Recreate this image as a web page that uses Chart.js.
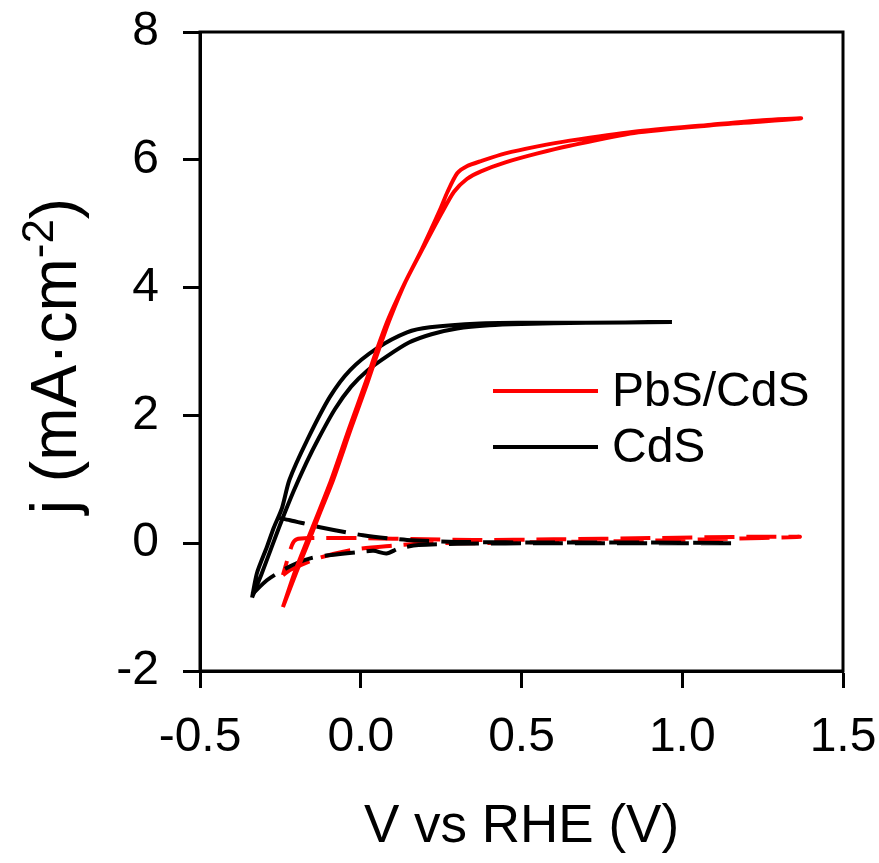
<!DOCTYPE html>
<html>
<head>
<meta charset="utf-8">
<script src="https://cdn.jsdelivr.net/npm/chart.js@4.4.1/dist/chart.umd.min.js"></script>
<style>
  html, body { margin: 0; padding: 0; background: #fff; }
  #wrap { width: 879px; height: 863px; }
</style>
</head>
<body>
<div id="wrap"><canvas id="jvChart" width="879" height="863"></canvas></div>
<script>
// Series labels
const seriesLabels = ['PbS/CdS', 'CdS'];

// PbS/CdS under light (solid red): forward sweep then return sweep
const pbsLightV = [-0.242, -0.200, -0.164, -0.125, -0.086, -0.030, 0.020, 0.054, 0.090, 0.140, 0.197, 0.250, 0.290, 0.330, 0.374, 0.450, 0.550, 0.650, 0.850, 1.090, 1.250, 1.370,
                   1.250, 1.090, 0.850, 0.650, 0.550, 0.450, 0.374, 0.330, 0.300, 0.270, 0.245, 0.190, 0.135, 0.085, 0.048, 0.014, -0.036, -0.092, -0.130, -0.170, -0.205, -0.242];
const pbsLightJ = [-1.00, -0.45, 0.00, 0.50, 0.99, 1.80, 2.50, 3.00, 3.50, 4.10, 4.65, 5.15, 5.50, 5.70, 5.82, 5.96, 6.10, 6.22, 6.42, 6.54, 6.60, 6.65,
                   6.62, 6.55, 6.44, 6.30, 6.21, 6.10, 5.98, 5.90, 5.79, 5.50, 5.20, 4.60, 4.05, 3.50, 3.00, 2.50, 1.80, 0.99, 0.50, 0.00, -0.45, -1.00];

// CdS under light (solid black)
const cdsLightV = [-0.338, -0.310, -0.280, -0.250, -0.210, -0.170, -0.130, -0.080, -0.030, 0.020, 0.080, 0.150, 0.220, 0.300, 0.400, 0.500, 0.700, 0.968,
                   0.700, 0.500, 0.370, 0.215, 0.144, 0.050, -0.033, -0.096, -0.167, -0.222, -0.245, -0.270, -0.292, -0.323, -0.338];
const cdsLightJ = [-0.85, -0.50, -0.10, 0.30, 0.80, 1.25, 1.65, 2.10, 2.45, 2.70, 2.92, 3.14, 3.27, 3.36, 3.41, 3.43, 3.45, 3.46,
                   3.45, 3.45, 3.44, 3.38, 3.30, 3.05, 2.71, 2.29, 1.61, 0.99, 0.55, 0.25, -0.06, -0.47, -0.85];

// PbS/CdS in the dark (dashed red)
const pbsDarkV = [-0.242, -0.220, -0.136, -0.020, 0.100, 0.206, 0.350, 0.600, 0.900, 1.150, 1.366,
                  1.200, 0.900, 0.600, 0.350, 0.200, 0.000, -0.158, -0.200, -0.214, -0.242];
const pbsDarkJ = [-0.50, -0.42, -0.24, -0.10, -0.04, 0.00, 0.00, 0.02, 0.04, 0.07, 0.10,
                  0.10, 0.08, 0.06, 0.05, 0.06, 0.08, 0.08, 0.06, -0.03, -0.50];

// CdS in the dark (dashed black)
const cdsDarkV = [-0.338, -0.292, -0.242, -0.198, -0.152, -0.100, -0.010, 0.040, 0.080, 0.120, 0.180, 0.300, 0.600, 0.900, 1.158,
                  0.900, 0.600, 0.300, 0.144, 0.007, -0.127, -0.220, -0.260];
const cdsDarkJ = [-0.80, -0.58, -0.42, -0.31, -0.23, -0.19, -0.14, -0.12, -0.16, -0.08, -0.03, -0.01, 0.00, 0.00, 0.00,
                  0.01, 0.01, 0.02, 0.05, 0.125, 0.25, 0.36, 0.40];

// Axis ticks
const xTicks = [-0.5, 0.0, 0.5, 1.0, 1.5];
const yTicks = [-2, 0, 2, 4, 6, 8];

const RED = 'rgb(255, 0, 0)';
const BLACK = 'rgb(0, 0, 0)';
const FONT = '"Liberation Sans", Arial, sans-serif';

function toPoints(xs, ys) {
  return xs.map((x, i) => ({ x: x, y: ys[i] }));
}

// Frame around plot area, in-plot legend and the y title with its superscript
const framePlugin = {
  id: 'frameAndLegend',
  afterDraw(chart) {
    const { ctx, chartArea } = chart;
    ctx.save();
    ctx.strokeStyle = BLACK;
    ctx.lineWidth = 3;
    ctx.strokeRect(chartArea.left, chartArea.top, chartArea.right - chartArea.left, chartArea.bottom - chartArea.top);

    // legend entries come from the labelled datasets
    const entries = chart.data.datasets.filter(d => d.inLegend);
    const lineX0 = 493, lineX1 = 598, textX = 612;
    const rowY = [391, 447];
    ctx.font = '48px ' + FONT;
    ctx.textBaseline = 'middle';
    ctx.textAlign = 'left';
    entries.forEach((d, i) => {
      ctx.strokeStyle = d.borderColor;
      ctx.lineWidth = 4;
      ctx.setLineDash([]);
      ctx.beginPath();
      ctx.moveTo(lineX0, rowY[i]);
      ctx.lineTo(lineX1, rowY[i]);
      ctx.stroke();
      ctx.fillStyle = BLACK;
      ctx.fillText(d.label, textX, rowY[i] + 2);
    });

    // y axis title: j (mA·cm^-2)
    const big = 64, small = 44;
    const parts = [
      { t: 'j (mA\u00B7cm', size: big, dy: 0 },
      { t: '-2', size: small, dy: -23 },
      { t: ')', size: big, dy: 0 }
    ];
    let total = 0;
    parts.forEach(p => { ctx.font = p.size + 'px ' + FONT; p.w = ctx.measureText(p.t).width; total += p.w; });
    ctx.translate(76, 356);
    ctx.rotate(-Math.PI / 2);
    ctx.textBaseline = 'alphabetic';
    ctx.fillStyle = BLACK;
    let cx = -total / 2;
    parts.forEach(p => {
      ctx.font = p.size + 'px ' + FONT;
      ctx.fillText(p.t, cx, p.dy);
      cx += p.w;
    });
    ctx.restore();
  }
};

const common = { pointRadius: 0, borderWidth: 4, tension: 0.25, fill: false };

new Chart(document.getElementById('jvChart'), {
  type: 'line',
  data: {
    datasets: [
      Object.assign({ label: seriesLabels[0], inLegend: true, data: toPoints(pbsLightV, pbsLightJ), borderColor: RED }, common),
      Object.assign({ label: seriesLabels[1], inLegend: true, data: toPoints(cdsLightV, cdsLightJ), borderColor: BLACK }, common),
      Object.assign({ label: seriesLabels[1] + ' dark', data: toPoints(cdsDarkV, cdsDarkJ), borderColor: BLACK, borderDash: [30, 12] }, common),
      Object.assign({ label: seriesLabels[0] + ' dark', data: toPoints(pbsDarkV, pbsDarkJ), borderColor: RED, borderDash: [30, 12] }, common)
    ]
  },
  options: {
    responsive: false,
    animation: false,
    layout: { padding: { top: 32, right: 36, left: 0, bottom: 0 } },
    plugins: { legend: { display: false }, tooltip: { enabled: false } },
    scales: {
      x: {
        type: 'linear',
        min: -0.5, max: 1.5,
        afterBuildTicks: s => { s.ticks = xTicks.map(v => ({ value: v })); },
        afterFit: s => { s.height = 192; s.paddingLeft = 0; s.paddingRight = 0; },
        ticks: {
          color: BLACK,
          font: { family: FONT, size: 48 },
          padding: 21,
          maxRotation: 0,
          callback: v => v.toFixed(1)
        },
        grid: { display: true, drawOnChartArea: false, drawTicks: true, tickLength: 17, tickWidth: 3, tickColor: BLACK },
        border: { display: true, color: BLACK, width: 3 },
        title: {
          display: true,
          text: 'V vs RHE (V)',
          color: BLACK,
          font: { family: FONT, size: 53 },
          padding: { top: 0, bottom: 4 }
        }
      },
      y: {
        type: 'linear',
        min: -2, max: 8,
        afterBuildTicks: s => { s.ticks = yTicks.map(v => ({ value: v })); },
        afterFit: s => { s.width = 200; s.paddingTop = 0; s.paddingBottom = 0; },
        ticks: {
          color: BLACK,
          font: { family: FONT, size: 48 },
          padding: 24,
          callback: v => String(v)
        },
        grid: { display: true, drawOnChartArea: false, drawTicks: true, tickLength: 17, tickWidth: 3, tickColor: BLACK },
        border: { display: true, color: BLACK, width: 3 },
        title: { display: false }
      }
    }
  },
  plugins: [framePlugin]
});
</script>
</body>
</html>
